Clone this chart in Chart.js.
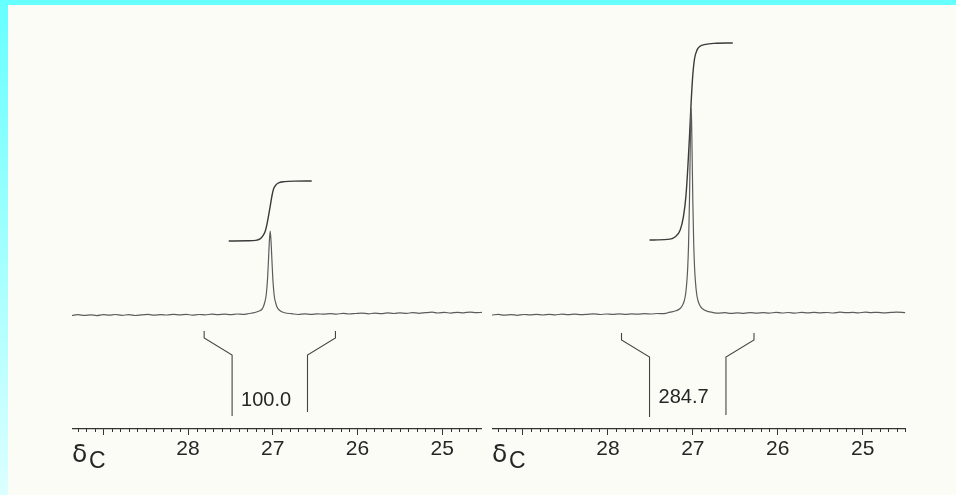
<!DOCTYPE html>
<html>
<head>
<meta charset="utf-8">
<script src="https://cdn.jsdelivr.net/npm/chart.js@4.4.1/dist/chart.umd.min.js"></script>
<style>
  html, body { margin: 0; padding: 0; }
  body { width: 956px; height: 495px; position: relative; overflow: hidden;
         background: linear-gradient(to bottom, #66ffff, #dcffff); }
  #sheet { position: absolute; left: 8px; top: 5px; right: 0; bottom: 0; background: #fcfcf7; }
  #strip { position: absolute; left: 0; top: 0; width: 956px; height: 5px; background: #66ffff; }
  canvas { position: absolute; top: 0; }
  #specA { left: 72px; }
  #specB { left: 492px; }
</style>
</head>
<body>
<div id="sheet"></div>
<div id="strip"></div>
<canvas id="specA" width="410" height="495"></canvas>
<canvas id="specB" width="414" height="495"></canvas>
<script>
// chemical shift (ppm) and intensity above baseline, first trace
const shiftA = [29.37, 29.30, 29.22, 29.15, 29.08, 29.00, 28.93, 28.86, 28.78, 28.70, 28.62, 28.55,
  28.47, 28.40, 28.32, 28.25, 28.17, 28.10, 28.02, 27.95, 27.87, 27.80, 27.72, 27.65, 27.57, 27.50,
  27.42, 27.35, 27.28, 27.21, 27.16, 27.13, 27.11, 27.095, 27.08, 27.07, 27.06, 27.05, 27.04, 27.03,
  27.02, 27.01, 27.00, 26.99, 26.98, 26.965, 26.95, 26.93, 26.90, 26.85, 26.78, 26.70, 26.62, 26.55,
  26.47, 26.40, 26.32, 26.25, 26.17, 26.10, 26.02, 25.95, 25.87, 25.80, 25.72, 25.65, 25.57, 25.50,
  25.42, 25.35, 25.27, 25.20, 25.12, 25.05, 24.97, 24.90, 24.82, 24.75, 24.67, 24.60, 24.53];
const intensityA = [-0.5, 0.3, -0.4, 0.2, -0.6, 0.4, -0.2, 0.5, -0.3, 0.3, -0.5, 0.2,
  0.6, -0.2, 0.4, 0.0, 0.7, 0.1, 0.6, -0.1, 0.5, 0.2, 0.8, 0.3, 0.9, 0.4,
  1.0, 0.6, 1.5, 2.5, 4, 5.5, 8.5, 12.5, 18.5, 26.5, 38.5, 56, 74, 84,
  73, 55, 37.5, 25.5, 17.5, 12, 8, 5.5, 3.5, 2, 1.3, 0.5, 1.1, 0.6,
  1.2, 0.8, 1.4, 0.9, 1.6, 1.0, 1.5, 1.9, 1.2, 1.8, 1.3, 2.1, 1.5, 2.2,
  1.6, 2.4, 1.7, 2.3, 2.8, 2.0, 2.6, 1.9, 2.7, 2.2, 2.9, 2.3, 2.6];

// second trace, same window
const shiftB = [29.365, 29.29, 29.22, 29.14, 29.07, 28.99, 28.92, 28.84, 28.77, 28.69, 28.62, 28.54,
  28.47, 28.39, 28.32, 28.24, 28.17, 28.09, 28.02, 27.94, 27.87, 27.79, 27.72, 27.64, 27.57, 27.49,
  27.42, 27.34, 27.27, 27.20, 27.15, 27.12, 27.10, 27.085, 27.07, 27.06, 27.05, 27.04, 27.03, 27.025,
  27.02, 27.015, 27.01, 27.00, 26.99, 26.98, 26.97, 26.955, 26.94, 26.92, 26.89, 26.84, 26.77, 26.70,
  26.62, 26.55, 26.47, 26.40, 26.32, 26.25, 26.17, 26.10, 26.02, 25.95, 25.87, 25.80, 25.72, 25.65,
  25.57, 25.50, 25.42, 25.35, 25.27, 25.20, 25.12, 25.05, 24.97, 24.90, 24.82, 24.75, 24.67, 24.60, 24.50];
const intensityB = [0.0, 0.6, -0.2, 0.4, -0.3, 0.5, 0.1, 0.7, 0.0, 0.6, 0.2, 0.8,
  0.3, 0.9, 0.4, 0.7, 1.1, 0.5, 1.0, 0.6, 1.2, 0.7, 1.1, 0.8, 1.3, 1.0,
  1.5, 1.4, 2.8, 4.2, 6.5, 10, 14.5, 21, 34, 48, 72, 113, 170, 195,
  207, 195, 170, 113, 72, 48, 34, 21, 14.5, 10, 6.5, 4, 2.6, 1.8,
  2.3, 1.6, 2.2, 1.7, 2.4, 1.8, 2.3, 1.9, 2.6, 2.0, 2.5, 1.9, 2.6, 2.1,
  2.7, 2.2, 2.5, 2.0, 2.8, 2.3, 2.6, 2.1, 2.9, 2.4, 2.7, 2.2, 2.6, 2.9, 2.4];

// integral traces: fraction of the total area reached at each shift
const integralShiftA = [27.52, 27.30, 27.20, 27.15, 27.12, 27.09, 27.07, 27.05, 27.03, 27.01,
  26.99, 26.96, 26.92, 26.86, 26.75, 26.54];
const integralFracA = [0, 0.003, 0.01, 0.035, 0.08, 0.16, 0.27, 0.42, 0.58, 0.75,
  0.87, 0.94, 0.975, 0.99, 0.998, 1];
const integralShiftB = [27.51, 27.30, 27.21, 27.15, 27.11, 27.08, 27.06, 27.04, 27.02, 27.00,
  26.98, 26.95, 26.92, 26.85, 26.75, 26.53];
const integralFracB = [0, 0.003, 0.015, 0.05, 0.12, 0.23, 0.36, 0.52, 0.70, 0.84,
  0.92, 0.965, 0.982, 0.993, 0.998, 1];

const integralValues = [100.0, 284.7];
const integralBase = [74, 75];       // level where each integral trace starts
const integralScale = [0.60, 0.692]; // plot units per integral unit

// integration region: outer left, inner left, inner right, outer right (ppm)
const bracketShiftA = [27.81, 27.48, 26.59, 26.26];
const bracketShiftB = [27.84, 27.51, 26.61, 26.28];
// bracket levels: top, bend, inner top, left foot, right foot
const bracketLevelA = [-16, -23, -40, -101, -97];
const bracketLevelB = [-18, -25, -42, -102, -100];
const labelLevel = [-85, -82];

const majorTicks = [29, 28, 27, 26, 25];
const tickLabels = ['', '28', '27', '26', '25'];
const shiftRange = [[24.53, 29.37], [24.49, 29.365]];

const FONT = '"Liberation Sans", Arial, Helvetica, sans-serif';
const INK = '#262626';

function pts(xs, ys) {
  return xs.map((x, i) => ({ x: x, y: ys[i] }));
}

function bracketSides(sh, lv) {
  return [
    [{ x: sh[0], y: lv[0] }, { x: sh[0], y: lv[1] }, { x: sh[1], y: lv[2] }, { x: sh[1], y: lv[3] }],
    [{ x: sh[2], y: lv[4] }, { x: sh[2], y: lv[2] }, { x: sh[3], y: lv[1] }, { x: sh[3], y: lv[0] }]
  ];
}

// minor ticks, integral value and the delta-C axis title
const nmrDecor = {
  id: 'nmrDecor',
  afterDraw(chart, args, opts) {
    const ctx = chart.ctx;
    const xs = chart.scales.x, ys = chart.scales.y;
    ctx.save();
    ctx.strokeStyle = '#333';
    ctx.lineWidth = 1;
    ctx.beginPath();
    for (let k = Math.ceil(xs.min * 10); k <= Math.floor(xs.max * 10); k++) {
      if (k % 10 === 0) continue;
      const px = Math.round(xs.getPixelForValue(k / 10)) + 0.5;
      ctx.moveTo(px, xs.top);
      ctx.lineTo(px, xs.top + 3);
    }
    ctx.stroke();

    ctx.fillStyle = INK;
    ctx.font = '20px ' + FONT;
    ctx.textBaseline = 'middle';
    ctx.textAlign = 'left';
    ctx.fillText(opts.value.toFixed(1), xs.getPixelForValue(opts.labelShift) + 9, ys.getPixelForValue(opts.labelLevel));

    ctx.textBaseline = 'alphabetic';
    ctx.font = '25px "DejaVu Sans", ' + FONT;
    ctx.fillText('δ', chart.chartArea.left, xs.top + 33);
    ctx.font = '23px ' + FONT;
    ctx.fillText('C', chart.chartArea.left + 17, xs.top + 39);
    ctx.restore();
  }
};

function drawSpectrum(id, n, shift, intensity, iShift, iFrac, bShift, bLevel) {
  const integral = iFrac.map(f => integralBase[n] + f * integralValues[n] * integralScale[n]);
  const sides = bracketSides(bShift, bLevel);
  const line = { pointRadius: 0, fill: false };
  new Chart(document.getElementById(id), {
    type: 'line',
    data: {
      datasets: [
        { ...line, data: pts(shift, intensity), borderColor: '#5c5c5c', borderWidth: 1.2, cubicInterpolationMode: 'monotone' },
        { ...line, data: pts(iShift, integral), borderColor: '#3a3a3a', borderWidth: 1.4, cubicInterpolationMode: 'monotone' },
        { ...line, data: sides[0], borderColor: '#444', borderWidth: 1.1 },
        { ...line, data: sides[1], borderColor: '#444', borderWidth: 1.1 }
      ]
    },
    options: {
      responsive: false,
      animation: false,
      devicePixelRatio: 1,
      layout: { padding: 0 },
      plugins: {
        legend: { display: false },
        tooltip: { enabled: false },
        nmrDecor: { value: integralValues[n], labelShift: bShift[1], labelLevel: labelLevel[n] }
      },
      scales: {
        x: {
          type: 'linear',
          reverse: true,
          min: shiftRange[n][0],
          max: shiftRange[n][1],
          afterBuildTicks: s => { s.ticks = majorTicks.map(v => ({ value: v })); },
          afterFit: s => { s.height = 66; },
          border: { display: true, color: '#333', width: 1.2 },
          grid: { display: true, drawOnChartArea: false, drawTicks: true, tickLength: 6, color: '#333', lineWidth: 1 },
          ticks: {
            padding: 2,
            autoSkip: false,
            maxRotation: 0,
            color: INK,
            font: { family: FONT, size: 21 },
            callback: v => tickLabels[majorTicks.indexOf(v)] ?? ''
          }
        },
        y: { type: 'linear', display: false, min: -114, max: 315 }
      }
    },
    plugins: [nmrDecor]
  });
}

drawSpectrum('specA', 0, shiftA, intensityA, integralShiftA, integralFracA, bracketShiftA, bracketLevelA);
drawSpectrum('specB', 1, shiftB, intensityB, integralShiftB, integralFracB, bracketShiftB, bracketLevelB);
</script>
</body>
</html>
